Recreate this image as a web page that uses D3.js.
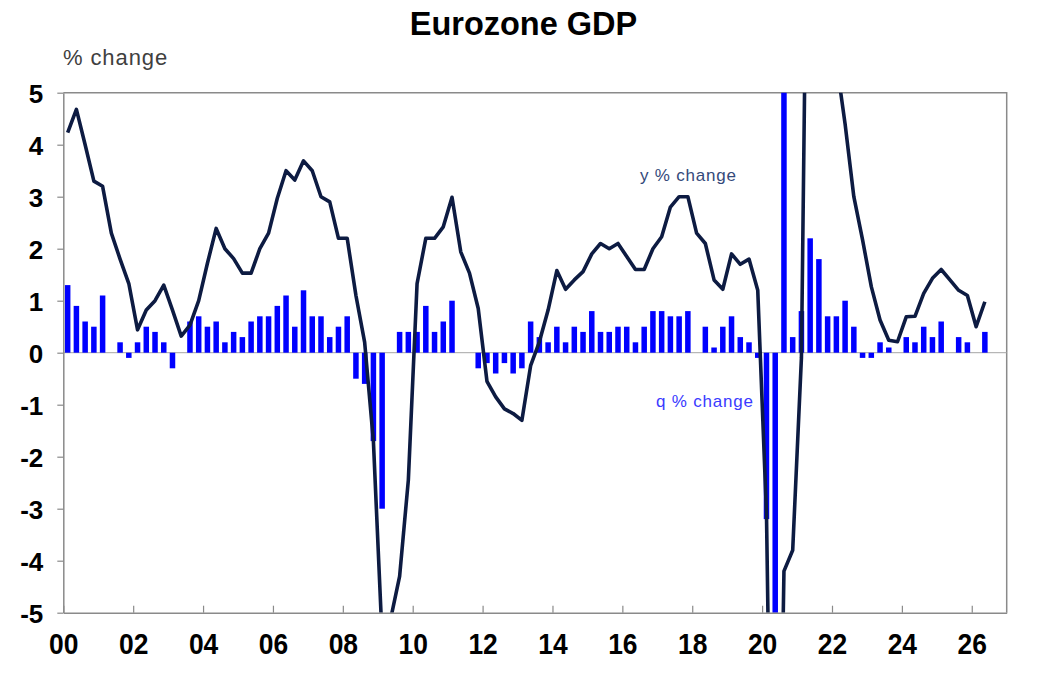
<!DOCTYPE html>
<html>
<head>
<meta charset="utf-8">
<script src="https://cdn.jsdelivr.net/npm/d3@7"></script>
<style>
  html, body { margin: 0; padding: 0; background: #fff; }
  svg { display: block; }
</style>
</head>
<body>
<div id="chart"></div>
<script>
// ---- Data ----
const years = d3.range(2000, 2027);                 // 2000 .. 2026
const quarterNames = ["Q1", "Q2", "Q3", "Q4"];
const categories = years.flatMap(y => quarterNames.map(q => y + q)); // 108 quarters

// quarter-on-quarter % change (2000Q1 .. 2026Q2)
const qChange = [
  1.3, 0.9, 0.6, 0.5, 1.1, 0.0, 0.2, -0.1, 0.2, 0.5, 0.4, 0.2, -0.3, 0.0,
  0.6, 0.7, 0.5, 0.6, 0.2, 0.4, 0.3, 0.6, 0.7, 0.7, 0.9, 1.1, 0.5, 1.2,
  0.7, 0.7, 0.3, 0.5, 0.7, -0.5, -0.6, -1.7, -3.0, 0.0, 0.4, 0.4, 0.4, 0.9,
  0.4, 0.6, 1.0, 0.0, 0.0, -0.3, -0.2, -0.4, -0.2, -0.4, -0.3, 0.6, 0.3, 0.2,
  0.5, 0.2, 0.5, 0.4, 0.8, 0.4, 0.4, 0.5, 0.5, 0.2, 0.5, 0.8, 0.8, 0.7,
  0.7, 0.8, 0.0, 0.5, 0.1, 0.5, 0.7, 0.3, 0.2, -0.1, -3.2, -11.7, 12.4, 0.3,
  0.8, 2.2, 1.8, 0.7, 0.7, 1.0, 0.5, -0.1, -0.1, 0.2, 0.1, 0.0, 0.3, 0.2,
  0.5, 0.3, 0.6, 0.0, 0.3, 0.2, 0.0, 0.4
];

// year-on-year % change (2000Q1 .. 2026Q2)
const yChange = [
  4.23, 4.68, 4.0, 3.3, 3.2, 2.3, 1.8, 1.33, 0.44, 0.82, 1.0, 1.3, 0.82, 0.32,
  0.53, 1.0, 1.72, 2.39, 2.0, 1.81, 1.53, 1.53, 2.0, 2.3, 2.97, 3.5, 3.32, 3.69,
  3.5, 3.0, 2.9, 2.2, 2.2, 1.1, 0.2, -1.7, -5.5, -5.1, -4.3, -2.45, 1.33, 2.2,
  2.2, 2.42, 2.99, 1.94, 1.53, 0.85, -0.55, -0.85, -1.08, -1.17, -1.3, -0.25, 0.21, 0.82,
  1.58, 1.22, 1.4, 1.56, 1.9, 2.1, 2.0, 2.1, 1.85, 1.6, 1.6, 2.0, 2.23, 2.8,
  3.0, 3.0, 2.3, 2.1, 1.4, 1.22, 1.9, 1.7, 1.8, 1.2, -3.1, -14.5, -4.2, -3.8,
  -0.1, 14.2, 6.0, 5.9, 5.6, 4.4, 3.0, 2.17, 1.27, 0.63, 0.24, 0.21, 0.69, 0.7,
  1.14, 1.43, 1.6, 1.4, 1.2, 1.1, 0.5, 0.98
];

const yTicks = [5, 4, 3, 2, 1, 0, -1, -2, -3, -4, -5];
const xTickYears = [2000, 2002, 2004, 2006, 2008, 2010, 2012, 2014, 2016, 2018, 2020, 2022, 2024, 2026];
const xTickLabels = ["00", "02", "04", "06", "08", "10", "12", "14", "16", "18", "20", "22", "24", "26"];

// ---- Layout ----
const W = 1058, H = 677;
const plot = { left: 63.3, right: 1006.7, top: 92.7, bottom: 612.7 };

const svg = d3.select("#chart").append("svg").attr("width", W).attr("height", H);

const pad = 0.37;
const x = d3.scaleBand().domain(categories).range([plot.left, plot.right])
  .paddingInner(pad).paddingOuter(pad / 2);
const xYear = d3.scaleLinear().domain([2000, 2027]).range([plot.left, plot.right]);
const y = d3.scaleLinear().domain([-5, 5]).range([plot.bottom, plot.top]);

const qData = qChange.map((v, i) => ({ cat: categories[i], v }));
const yData = yChange.map((v, i) => ({ cat: categories[i], v }));

svg.append("defs").append("clipPath").attr("id", "clip")
  .append("rect")
  .attr("x", plot.left).attr("y", plot.top)
  .attr("width", plot.right - plot.left).attr("height", plot.bottom - plot.top);

// plot frame (top and right)
svg.append("path")
  .attr("d", `M${plot.left},${plot.top}H${plot.right}V${plot.bottom}`)
  .attr("fill", "none").attr("stroke", "#8a8a8a").attr("stroke-width", 1.5);

// zero line
svg.append("line")
  .attr("x1", plot.left).attr("x2", plot.right)
  .attr("y1", y(0)).attr("y2", y(0))
  .attr("stroke", "#a6a6a6").attr("stroke-width", 1);

const g = svg.append("g").attr("clip-path", "url(#clip)");

// bars
g.selectAll("rect.bar").data(qData).join("rect")
  .attr("class", "bar")
  .attr("x", d => x(d.cat))
  .attr("width", x.bandwidth())
  .attr("y", d => y(Math.max(0, d.v)))
  .attr("height", d => Math.abs(y(d.v) - y(0)))
  .attr("fill", "#0000ff");

// line
const line = d3.line()
  .x(d => x(d.cat) + x.bandwidth() / 2)
  .y(d => y(d.v));
g.append("path").datum(yData)
  .attr("d", line)
  .attr("fill", "none")
  .attr("stroke", "#0d1b42")
  .attr("stroke-width", 3.6)
  .attr("stroke-linejoin", "round");

// y axis
const yAxis = svg.append("g")
  .attr("transform", `translate(${plot.left},0)`)
  .call(d3.axisLeft(y).tickValues(yTicks).tickFormat(d => String(d))
    .tickSize(6).tickPadding(14).tickSizeOuter(0));
yAxis.select(".domain").attr("stroke", "#8a8a8a").attr("stroke-width", 1.5);
yAxis.selectAll(".tick line").attr("stroke", "#8a8a8a").attr("stroke-width", 1.2);
yAxis.selectAll(".tick text")
  .attr("font-family", "'Liberation Sans', Arial, sans-serif")
  .attr("font-weight", "bold").attr("font-size", 26).attr("fill", "#000")
  .attr("dy", "0.36em");

// x axis
const xAxis = svg.append("g")
  .attr("transform", `translate(0,${plot.bottom})`)
  .call(d3.axisBottom(xYear).tickValues(xTickYears)
    .tickFormat((d, i) => xTickLabels[i])
    .tickSize(-7).tickPadding(20).tickSizeOuter(0));
xAxis.select(".domain").attr("stroke", "#8a8a8a").attr("stroke-width", 1.5);
xAxis.selectAll(".tick line").attr("stroke", "#8a8a8a").attr("stroke-width", 1.2);
xAxis.selectAll(".tick text")
  .attr("font-family", "'Liberation Sans', Arial, sans-serif")
  .attr("font-weight", "bold").attr("font-size", 30).attr("fill", "#000")
  .attr("transform", "scale(0.88,1)");

// title & labels
svg.append("text")
  .attr("x", 523.5).attr("y", 35)
  .attr("text-anchor", "middle")
  .attr("font-family", "'Liberation Sans', Arial, sans-serif")
  .attr("font-weight", "bold").attr("font-size", 32.5).attr("fill", "#000")
  .text("Eurozone GDP");

svg.append("text")
  .attr("x", 63).attr("y", 65)
  .attr("font-family", "'Liberation Sans', Arial, sans-serif")
  .attr("font-size", 22).attr("letter-spacing", 0.9).attr("fill", "#404040")
  .text("% change");

svg.append("text")
  .attr("x", 640).attr("y", 181)
  .attr("font-family", "'Liberation Sans', Arial, sans-serif")
  .attr("font-size", 17).attr("letter-spacing", 0.8).attr("fill", "#34497a")
  .text("y % change");

svg.append("text")
  .attr("x", 656).attr("y", 407)
  .attr("font-family", "'Liberation Sans', Arial, sans-serif")
  .attr("font-size", 17).attr("letter-spacing", 0.8).attr("fill", "#3a3aff")
  .text("q % change");
</script>
</body>
</html>
